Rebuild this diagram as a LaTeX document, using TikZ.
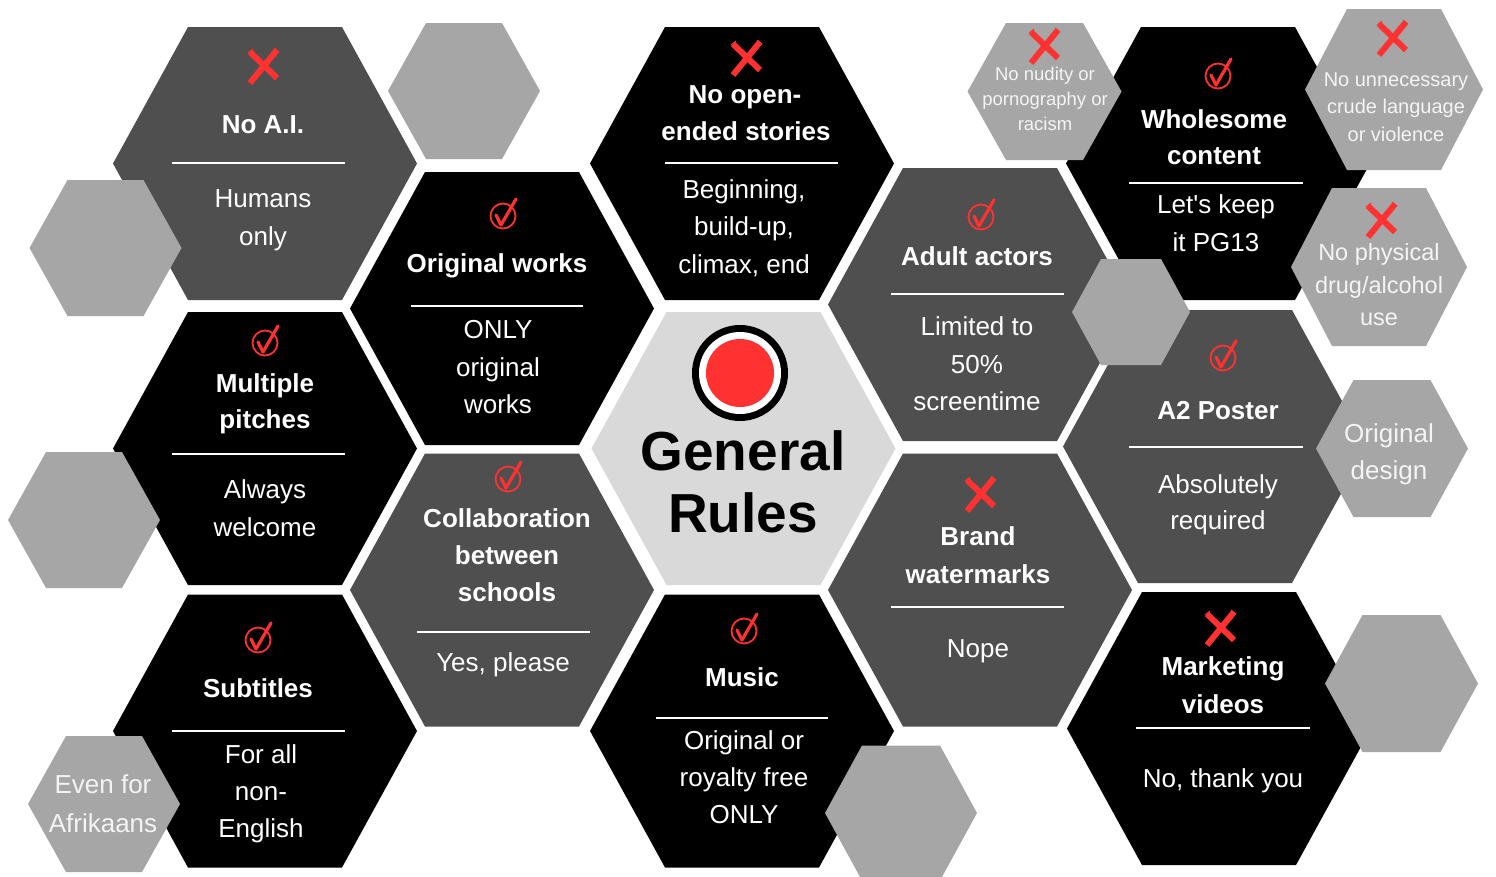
\documentclass[tikz,border=0pt]{standalone}
\usepackage{fontspec}
\setmainfont{Liberation Sans}
\definecolor{dk}{HTML}{4F4F4F}
\definecolor{gr}{HTML}{A6A6A6}
\definecolor{lt}{HTML}{D9D9D9}
\definecolor{rd}{HTML}{FF3131}
\definecolor{gtxt}{HTML}{F4F4F4}
% hexagon: cx, cy, half width, half height, half top edge, style
\newcommand\hexfill[6]{\fill[#6] ({#1-#3},{#2}) -- ({#1-#5},{#2-#4}) -- ({#1+#5},{#2-#4}) -- ({#1+#3},{#2}) -- ({#1+#5},{#2+#4}) -- ({#1-#5},{#2+#4}) -- cycle;}
\newcommand\mainhex[3]{\hexfill{#1}{#2}{152}{136.5}{77}{#3}}
\newcommand\chkmark[2]{\begin{scope}[shift={(#1,#2)}]
  \draw[rd,line width=1.8pt] (0,0) circle[radius=12.5pt];
  \draw[rd,line width=3.2pt,line join=round,line cap=round] (-7,-1) -- (-2,9) -- (13,-17);
\end{scope}}
\newcommand\xmark[2]{\begin{scope}[shift={(#1,#2)}]
  \draw[rd,line width=6pt] (-13,-14) -- (14,12);
  \draw[rd,line width=6pt] (14,-16) -- (-13,17);
  \draw[rd,line width=1pt] (-15,-13) -- (-10,-17);
  \draw[rd,line width=1pt] (11,-18) -- (16,-14);
\end{scope}}
\newcommand\divider[3]{\draw[white,line width=1.5pt] (#1,#3) -- (#2,#3);}
\tikzset{
  ttl/.style={anchor=base,text=white,inner sep=0pt,font=\bfseries\fontsize{26}{30}\selectfont},
  bdy/.style={anchor=base,text=white,inner sep=0pt,font=\fontsize{26}{30}\selectfont},
  gsm/.style={anchor=base,text=gtxt,inner sep=0pt,font=\fontsize{18.5}{22}\selectfont},
  gmd/.style={anchor=base,text=gtxt,inner sep=0pt,font=\fontsize{20}{24}\selectfont},
  glg/.style={anchor=base,text=gtxt,inner sep=0pt,font=\fontsize{23.5}{28}\selectfont},
  gbg/.style={anchor=base,text=gtxt,inner sep=0pt,font=\fontsize{26}{30}\selectfont},
  big/.style={anchor=base,text=black,inner sep=0pt,font=\bfseries\fontsize{55}{60}\selectfont},
}
\begin{document}
\begin{tikzpicture}[x=1pt,y=-1pt]
\useasboundingbox (0,0) rectangle (1496,876);
\fill[white] (0,0) rectangle (1496,876);
\clip (0,0) rectangle (1496,876);
% ---- main hexagons
\mainhex{265}{163.5}{dk}
\mainhex{502}{308.5}{black}
\mainhex{742}{163.5}{black}
\mainhex{265}{448.5}{black}
\mainhex{502}{590}{dk}
\mainhex{743.5}{448.5}{lt}
\mainhex{742}{731}{black}
\mainhex{265}{731}{black}
\mainhex{980}{304.5}{dk}
\mainhex{980}{590}{dk}
\mainhex{1218}{163.5}{black}
\mainhex{1215}{446.5}{dk}
\mainhex{1219}{728.5}{black}
% ---- grey hexagons
\hexfill{464}{91}{76}{68}{38}{gr}
\hexfill{105.5}{248}{76}{68}{38}{gr}
\hexfill{84}{520}{76}{68}{38}{gr}
\hexfill{104}{804}{76}{68}{38}{gr}
\hexfill{1044.5}{91.5}{77}{68.5}{38.5}{gr}
\hexfill{1394}{89.5}{89}{80.5}{47}{gr}
\hexfill{1379}{267}{88}{79}{47}{gr}
\hexfill{1131}{312}{59}{53}{30}{gr}
\hexfill{1392}{448.5}{76}{68.5}{38.5}{gr}
\hexfill{901}{813}{76}{67.5}{39}{gr}
\hexfill{1401.5}{683.5}{76.5}{68.5}{39}{gr}
% ---- No A.I.
\xmark{263}{66}
\node[ttl] (ai1) at (263,133) {No A.I.};
\divider{172}{345}{163}
\node[bdy] (ai2) at (263,207) {Humans};
\node[bdy] (ai3) at (263,245) {only};
% ---- Original works
\chkmark{503}{216}
\node[ttl] (ow1) at (497,272) {Original works};
\divider{411}{583}{306}
\node[bdy] (ow2) at (498,338) {ONLY};
\node[bdy] (ow3) at (498,376) {original};
\node[bdy] (ow4) at (498,413) {works};
% ---- No open-ended stories
\xmark{746}{58}
\node[ttl] (no1) at (745,103) {No open-};
\node[ttl] (no2) at (746,140) {ended stories};
\divider{665}{838}{163}
\node[bdy] (no3) at (744,198) {Beginning,};
\node[bdy] (no4) at (744,235) {build-up,};
\node[bdy] (no5) at (744,273) {climax, end};
% ---- Multiple pitches
\chkmark{265}{343}
\node[ttl] (mp1) at (265,392) {Multiple};
\node[ttl] (mp2) at (265,428) {pitches};
\divider{172}{345}{454}
\node[bdy] (mp3) at (265,498) {Always};
\node[bdy] (mp4) at (265,536) {welcome};
% ---- Collaboration
\chkmark{508}{479}
\node[ttl] (co1) at (507,527) {Collaboration};
\node[ttl] (co2) at (507,564) {between};
\node[ttl] (co3) at (507,601) {schools};
\divider{417}{590}{632}
\node[bdy] (co4) at (503,671) {Yes, please};
% ---- General Rules
\fill[black] (740,373) circle[radius=48pt];
\fill[white] (740,373) circle[radius=41pt];
\fill[rd] (740,373) circle[radius=34pt];
\node[big] (gr1) at (743,470) {General};
\node[big] (gr2) at (743,532) {Rules};
% ---- Subtitles
\chkmark{258}{640}
\node[ttl] (su1) at (258,697) {Subtitles};
\divider{172}{345}{731}
\node[bdy] (su2) at (261,763) {For all};
\node[bdy] (su3) at (261,800) {non-};
\node[bdy] (su4) at (261,837) {English};
% ---- Music
\chkmark{744}{631}
\node[ttl] (mu1) at (742,686) {Music};
\divider{656}{828}{718}
\node[bdy] (mu2) at (744,749) {Original or};
\node[bdy] (mu3) at (744,786) {royalty free};
\node[bdy] (mu4) at (744,823) {ONLY};
% ---- Adult actors
\chkmark{981}{217}
\node[ttl] (aa1) at (977,265) {Adult actors};
\divider{891}{1064}{294}
\node[bdy] (aa2) at (977,335) {Limited to};
\node[bdy] (aa3) at (977,373) {50\%};
\node[bdy] (aa4) at (977,410) {screentime};
% ---- Brand watermarks
\xmark{980}{494}
\node[ttl] (bw1) at (978,545) {Brand};
\node[ttl] (bw2) at (978,583) {watermarks};
\divider{891}{1064}{607}
\node[bdy] (bw3) at (978,657) {Nope};
% ---- Wholesome content
\chkmark{1218}{76}
\node[ttl] (wc1) at (1214,128) {Wholesome};
\node[ttl] (wc2) at (1214,164) {content};
\divider{1129}{1303}{183}
\node[bdy] (wc3) at (1216,213) {Let\textquotesingle s keep};
\node[bdy] (wc4) at (1216,251) {it PG13};
% ---- A2 Poster
\chkmark{1223}{358}
\node[ttl] (a21) at (1218,419) {A2 Poster};
\divider{1129}{1303}{447}
\node[bdy] (a22) at (1218,493) {Absolutely};
\node[bdy] (a23) at (1218,529) {required};
% ---- Marketing videos
\xmark{1220}{628}
\node[ttl] (mv1) at (1223,675) {Marketing};
\node[ttl] (mv2) at (1223,713) {videos};
\divider{1136}{1310}{728}
\node[bdy] (mv3) at (1223,787) {No, thank you};
% ---- grey hexagon texts
\xmark{1044}{46}
\node[gsm] (nn1) at (1045,80) {No nudity or};
\node[gsm] (nn2) at (1045,105) {pornography or};
\node[gsm] (nn3) at (1045,130) {racism};
\xmark{1392}{38}
\node[gmd] (nu1) at (1396,86) {No unnecessary};
\node[gmd] (nu2) at (1396,113) {crude language};
\node[gmd] (nu3) at (1396,141) {or violence};
\xmark{1381}{220}
\node[glg] (np1) at (1379,260) {No physical};
\node[glg] (np2) at (1379,293) {drug/alcohol};
\node[glg] (np3) at (1379,325) {use};
\node[gbg] (od1) at (1389,442) {Original};
\node[gbg] (od2) at (1389,479) {design};
\node[gbg] (ea1) at (103,793) {Even for};
\node[gbg] (ea2) at (103,832) {Afrikaans};
\end{tikzpicture}
\end{document}
